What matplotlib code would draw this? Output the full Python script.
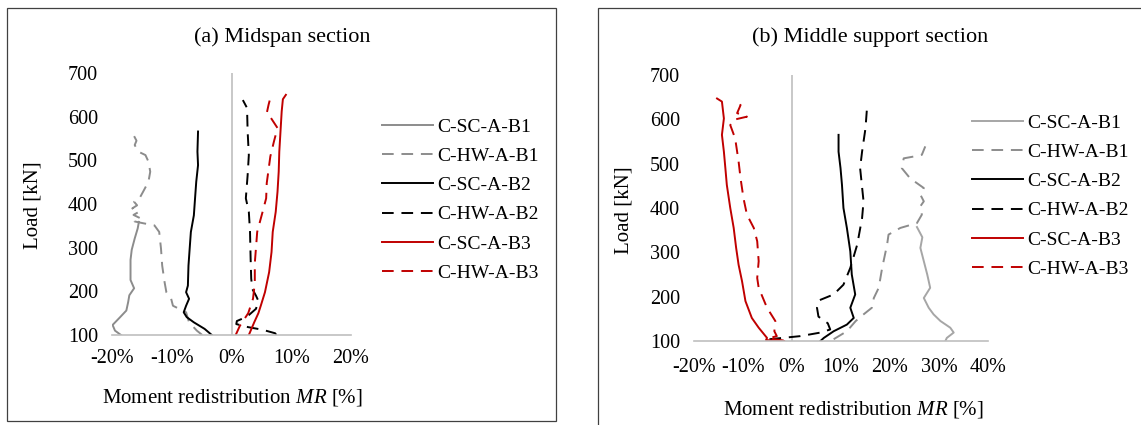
import matplotlib
matplotlib.use('Agg')
import matplotlib.pyplot as plt
from matplotlib.patches import Rectangle
from matplotlib.ticker import FuncFormatter

plt.rcParams['font.family'] = ['Liberation Serif', 'DejaVu Serif']
plt.rcParams['mathtext.fontset'] = 'custom'
plt.rcParams['mathtext.rm'] = 'Liberation Serif'
plt.rcParams['mathtext.it'] = 'Liberation Serif:italic'

labels = ['C-SC-A-B1', 'C-HW-A-B1', 'C-SC-A-B2', 'C-HW-A-B2', 'C-SC-A-B3', 'C-HW-A-B3']

# (a) midspan section: load [kN] and moment redistribution [%]
a_sc_b1_load = [100, 110, 123, 140, 156, 175, 191, 207, 226, 250, 272, 295, 321, 344, 359]
a_sc_b1_mr = [-18.5, -19.5, -19.9, -18.7, -17.6, -17.3, -17.1, -16.3, -16.9, -16.9, -16.9, -16.7, -16.2, -15.7, -15.5]

a_hw_b1_load = [100, 110, 129, 152, 167, 183, 198, 221, 259, 298, 336, 351, 356, 360, 367, 375,
                382, 390, 397, 405, 413, 428, 451, 474, 497, 512, 520, 535, 545, 558]
a_hw_b1_mr = [-4.9, -5.8, -7.1, -7.6, -9.8, -10.1, -10.9, -11.2, -11.6, -11.8, -12.1, -12.9, -14.8, -16.2, -15.2, -16.4,
              -15.5, -16.6, -15.8, -16.3, -15.4, -14.8, -13.9, -13.6, -13.9, -14.4, -15.6, -16.2, -15.9, -16.4]

a_sc_b2_load = [100, 114, 129, 141, 152, 167, 183, 198, 213, 259, 298, 336, 374, 413, 451, 489, 520, 566]
a_sc_b2_mr = [-3.3, -4.5, -6.3, -7.5, -8.0, -7.6, -7.1, -7.6, -7.3, -7.2, -7.0, -6.8, -6.3, -6.1, -5.9, -5.6, -5.7, -5.6]

a_hw_b2_load = [100, 104, 112, 118, 125, 132, 142, 160, 178, 190, 205, 229, 275, 336, 382, 413, 466, 512, 566, 620, 638]
a_hw_b2_mr = [7.5, 7.3, 5.2, 2.8, 0.8, 0.9, 2.6, 4.1, 4.5, 4.1, 3.5, 3.3, 3.2, 3.1, 2.9, 2.4, 2.7, 2.9, 2.7, 2.6, 1.9]

a_sc_b3_load = [100, 129, 150, 167, 198, 244, 290, 336, 382, 428, 474, 520, 566, 612, 640, 650]
a_sc_b3_mr = [2.9, 3.8, 4.5, 4.9, 5.6, 6.3, 6.7, 6.9, 7.4, 7.7, 7.9, 8.0, 8.2, 8.4, 8.6, 9.1]

a_hw_b3_load = [100, 121, 150, 183, 219, 265, 300, 336, 387, 413, 448, 509, 543, 574, 597, 608, 627, 643]
a_hw_b3_mr = [0.7, 1.4, 2.8, 3.6, 3.9, 3.9, 4.1, 4.3, 5.3, 5.8, 5.9, 6.5, 7.1, 7.7, 6.6, 5.9, 6.2, 6.5]

# (b) middle support section
b_sc_b1_load = [100, 107, 119, 130, 145, 160, 175, 197, 220, 250, 280, 310, 334, 357]
b_sc_b1_mr = [31.3, 31.6, 33.0, 32.3, 30.3, 28.9, 27.9, 26.9, 28.2, 27.6, 26.9, 26.2, 26.6, 25.5]

b_hw_b1_load = [104, 122, 145, 160, 175, 197, 220, 265, 317, 340, 355, 366, 385, 404, 415, 430,
                445, 467, 490, 512, 516, 520, 539]
b_hw_b1_mr = [8.5, 11.2, 13.0, 14.6, 16.3, 16.7, 17.7, 18.4, 19.4, 19.7, 22.1, 25.5, 26.5, 26.2, 26.9, 26.2,
              26.9, 24.1, 22.4, 22.8, 24.8, 26.5, 27.2]

b_sc_b2_load = [100, 107, 122, 137, 152, 175, 205, 250, 302, 355, 400, 452, 490, 527, 565]
b_sc_b2_mr = [5.8, 6.5, 8.5, 11.2, 12.6, 11.9, 12.9, 12.2, 11.9, 11.2, 10.5, 10.2, 9.9, 9.5, 9.5]

b_hw_b2_load = [104, 111, 119, 126, 140, 155, 175, 192, 205, 227, 265, 317, 377, 415, 490, 527, 580, 625, 636]
b_hw_b2_mr = [-4.6, 1.7, 5.8, 7.8, 7.3, 5.4, 5.1, 5.6, 8.5, 10.5, 11.9, 13.3, 14.3, 14.6, 13.9, 14.3, 15.0, 15.3, 15.6]

b_sc_b3_load = [100, 102, 107, 130, 152, 190, 235, 272, 310, 355, 400, 452, 490, 527, 565, 602, 640, 647]
b_sc_b3_mr = [-1.6, -5.3, -5.1, -6.8, -8.2, -9.5, -10.2, -10.9, -11.4, -11.9, -12.6, -13.3, -13.6, -13.9, -14.3,
              -13.9, -14.3, -15.3]

b_hw_b3_load = [101, 106, 111, 122, 145, 175, 220, 242, 280, 325, 355, 385, 422, 467, 505, 557, 587,
                599, 606, 614, 632, 647]
b_hw_b3_mr = [-1.7, -4.8, -3.1, -3.6, -3.4, -5.1, -6.8, -7.1, -6.8, -7.1, -7.8, -9.2, -9.9, -10.5, -10.9,
              -11.6, -12.6, -11.9, -9.2, -11.2, -10.5, -11.2]

panel_a = [(a_sc_b1_mr, a_sc_b1_load), (a_hw_b1_mr, a_hw_b1_load), (a_sc_b2_mr, a_sc_b2_load),
           (a_hw_b2_mr, a_hw_b2_load), (a_sc_b3_mr, a_sc_b3_load), (a_hw_b3_mr, a_hw_b3_load)]
panel_b = [(b_sc_b1_mr, b_sc_b1_load), (b_hw_b1_mr, b_hw_b1_load), (b_sc_b2_mr, b_sc_b2_load),
           (b_hw_b2_mr, b_hw_b2_load), (b_sc_b3_mr, b_sc_b3_load), (b_hw_b3_mr, b_hw_b3_load)]

dash = (0, (6, 4))
styles_a = [('#8c8c8c', '-'), ('#8c8c8c', dash), ('black', '-'), ('black', dash), ('#c00000', '-'), ('#c00000', dash)]
styles_b = [('#a6a6a6', '-'), ('#8c8c8c', dash), ('black', '-'), ('black', dash), ('#c00000', '-'), ('#c00000', dash)]

W, H = 1141, 425
fig = plt.figure(figsize=(W / 100, H / 100), dpi=100)


def px(x, y):
    # pixel position (from top-left) to figure fraction
    return x / W, (H - y) / H


def draw_panel(rect, series, styles, xlim, xpad, title, title_pos, ylab_pos, xlab_pos, leg_pos):
    ax = fig.add_axes(rect)
    for (mr, load), (color, ls), lab in zip(series, styles, labels):
        ax.plot(mr, load, color=color, linestyle=ls, lw=1.4, label=lab)
    ax.axvline(0, color='#bfbfbf', lw=1.2, zorder=0)
    ax.set_xlim(*xlim)
    ax.set_ylim(100, 700)
    ax.set_xticks(range(xlim[0], xlim[1] + 1, 10))
    ax.set_yticks(range(100, 701, 100))
    ax.xaxis.set_major_formatter(FuncFormatter(lambda v, p: '%d%%' % v))
    ax.tick_params(length=0, labelsize=14.5)
    ax.tick_params(axis='y', pad=10)
    ax.tick_params(axis='x', pad=xpad)
    for s in ['top', 'right', 'left']:
        ax.spines[s].set_visible(False)
    ax.spines['bottom'].set_color('#bfbfbf')
    ax.spines['bottom'].set_linewidth(1.2)
    ax.patch.set_alpha(0)

    fig.text(*px(*title_pos), title, fontsize=16, ha='center', va='center')
    fig.text(*px(*ylab_pos), 'Load [kN]', fontsize=15, ha='center', va='center', rotation=90)
    fig.text(*px(*xlab_pos), 'Moment redistribution $\\mathit{MR}$ [%]', fontsize=15, ha='center', va='center')
    handles, labs = ax.get_legend_handles_labels()
    fig.legend(handles, labs, loc='upper left', bbox_to_anchor=px(*leg_pos), frameon=False, fontsize=14,
               handlelength=2.6, handletextpad=0.25, labelspacing=0.6, borderpad=0, borderaxespad=0)
    return ax


draw_panel([112 / W, (H - 335) / H, 239 / W, 262 / H], panel_a, styles_a, (-20, 20), 10,
           '(a) Midspan section', (282, 37), (33, 205), (232, 397), (382, 118))
draw_panel([694 / W, (H - 341) / H, 294 / W, 266 / H], panel_b, styles_b, (-20, 40), 12,
           '(b) Middle support section', (870, 37), (624, 210), (853, 409), (972, 114))

# panel frames
fig.add_artist(Rectangle(px(7, 421), 549 / W, 413 / H, transform=fig.transFigure,
                         fill=False, edgecolor='#404040', lw=0.9))
fig.add_artist(Rectangle(px(598, 440), 560 / W, 432 / H, transform=fig.transFigure,
                         fill=False, edgecolor='#404040', lw=0.9))

fig.savefig('out.png', dpi=100)
